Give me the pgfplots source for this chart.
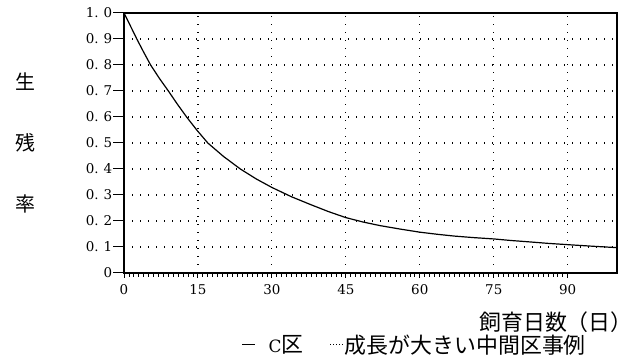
\documentclass[border=0pt]{standalone}
\usepackage{pgfplots}
\pgfplotsset{compat=1.18}
\usepackage{fontspec}
\setmainfont{DejaVu Serif}
\newfontfamily\cjk{Noto Sans CJK JP}
\newcommand{\dd}[2]{\textrm{#1.\hspace{5bp}#2}}
\begin{document}
\begin{tikzpicture}
\useasboundingbox (0,0) rectangle (637bp,362bp);
\begin{axis}[
  at={(124bp,89bp)}, anchor=south west,
  width=493bp, height=260bp, scale only axis,
  xmin=0, xmax=100, ymin=0, ymax=1,
  axis line style={line width=1.6bp},
  axis on top,
  xtick={0,15,30,45,60,75,90},
  xticklabels={\textrm{0},\textrm{15},\textrm{30},\textrm{45},\textrm{60},\textrm{75},\textrm{90}},
  minor x tick num=14,
  ytick=\empty,
  extra y ticks={0,0.1,0.2,0.3,0.4,0.5,0.6,0.7,0.8,0.9,1.0},
  extra y tick labels={\textrm{0},\dd01,\dd02,\dd03,\dd04,\dd05,\dd06,\dd07,\dd08,\dd09,\dd10},
  extra y tick style={major tick length=11bp, yticklabel style={inner sep=0.5bp}},
  tick align=outside,
  xtick pos=bottom, ytick pos=left,
  major tick length=5bp, minor tick length=4bp,
  tick style={black, line width=1bp},
  minor tick style={black, line width=0.8bp},
  ticklabel style={font=\fontsize{13.5}{15}\selectfont},
  xticklabel style={yshift=-3bp},
  grid=major,
  major grid style={black, line width=1.1bp, dash pattern=on 1.1bp off 6.9bp},
  legend style={at={(0.238,-0.275)}, anchor=west, draw=none, fill=none,
    inner sep=0pt, nodes={inner sep=0pt},
    /tikz/every even column/.append style={column sep=26bp}},
  legend columns=2,
  legend image code/.code={\draw[#1] (0bp,0bp) -- (13bp,0bp);},
]
\addplot[black, line width=1.2bp] coordinates {
(0,1.0) (1,0.962) (2.6,0.9) (4,0.849) (5.4,0.8) (7.2,0.748) (9,0.7) (10.8,0.65) (12.7,0.6) (14.8,0.549) (17,0.5) (20.2,0.448) (23.6,0.4) (26.8,0.362) (30,0.329) (34,0.293) (38,0.262) (41.5,0.236) (45,0.213) (48.5,0.196) (52,0.182) (56,0.169) (60,0.157) (63.5,0.149) (67,0.142) (71,0.136) (75,0.131) (78.5,0.125) (82,0.12) (86,0.114) (90,0.109) (95,0.103) (100,0.0975)
};
\addlegendentry{\hspace{13bp}{\fontsize{17}{20}\selectfont C}{\cjk\fontsize{22}{24}\selectfont 区}}
\addlegendimage{black, line width=1.2bp, dash pattern=on 1bp off 2bp}
\addlegendentry{\hspace{1bp}{\cjk\fontsize{22}{24}\selectfont 成長が大きい中間区事例}}
\end{axis}
\node[font=\cjk\fontsize{20}{20}\selectfont] at (25bp,280bp) {生};
\node[font=\cjk\fontsize{20}{20}\selectfont] at (25bp,219bp) {残};
\node[font=\cjk\fontsize{20}{20}\selectfont] at (25bp,158bp) {率};
\node[font=\cjk\fontsize{22}{22}\selectfont] at (556bp,40bp) {飼育日数（日）};
\end{tikzpicture}
\end{document}
